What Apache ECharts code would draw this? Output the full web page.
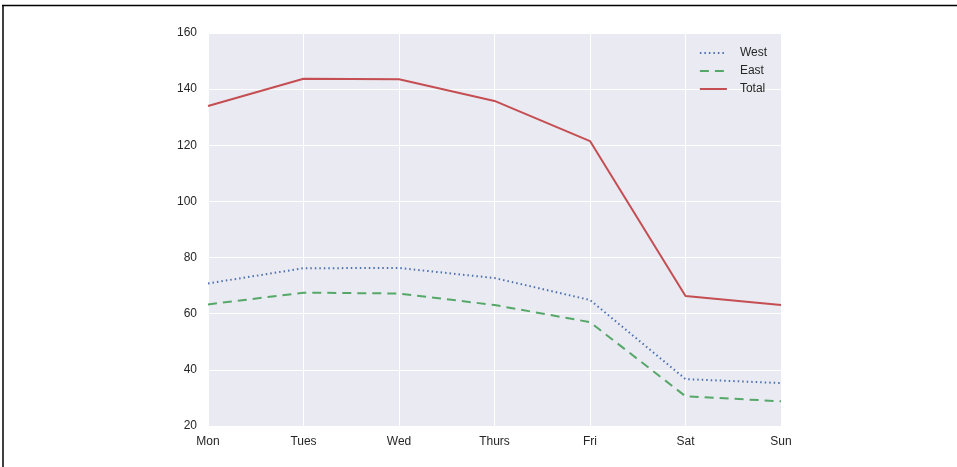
<!DOCTYPE html>
<html>
<head>
<meta charset="utf-8">
<script src="https://cdn.jsdelivr.net/npm/echarts@6/dist/echarts.min.js"></script>
<style>
html,body{margin:0;padding:0;background:#fff;}
#c{width:957px;height:467px;}
</style>
</head>
<body>
<div id="c"></div>
<script>
const categories = ['Mon', 'Tues', 'Wed', 'Thurs', 'Fri', 'Sat', 'Sun'];
const westValues = [70.8, 76.2, 76.3, 72.7, 64.9, 36.7, 35.3];
const eastValues = [63.3, 67.5, 67.2, 63.1, 57.0, 30.6, 28.8];
const totalValues = [134.0, 143.7, 143.5, 135.8, 121.5, 66.3, 63.1];
const yTicks = [20, 40, 60, 80, 100, 120, 140, 160];

const chart = echarts.init(document.getElementById('c'));
const font = 'Liberation Sans, Arial, sans-serif';
chart.setOption({
  animation: false,
  backgroundColor: '#ffffff',
  textStyle: { fontFamily: font },
  grid: { left: 208, right: 176, top: 33, bottom: 41, backgroundColor: '#EAEAF2', show: true, borderWidth: 0 },
  legend: {
    orient: 'vertical',
    right: 185,
    top: 42,
    itemWidth: 27,
    itemHeight: 10,
    itemGap: 6,
    itemStyle: { opacity: 0, borderWidth: 0 },
    textStyle: { color: '#262626', fontSize: 12, fontFamily: font, padding: [0, 0, 0, 8] },
    data: ['West', 'East', 'Total']
  },
  xAxis: {
    type: 'category',
    data: categories,
    boundaryGap: false,
    axisLine: { show: false },
    axisTick: { show: false },
    axisLabel: { color: '#262626', fontSize: 12, margin: 10, fontFamily: font },
    splitLine: { show: true, lineStyle: { color: '#ffffff', width: 1 } }
  },
  yAxis: {
    type: 'value',
    min: yTicks[0],
    max: yTicks[yTicks.length - 1],
    interval: 20,
    axisLine: { show: false },
    axisTick: { show: false },
    axisLabel: { color: '#262626', fontSize: 12, margin: 11, fontFamily: font },
    splitLine: { show: true, lineStyle: { color: '#ffffff', width: 1 } }
  },
  series: [
    { name: 'West', type: 'line', data: westValues, symbol: 'none', color: '#4C72B0',
      lineStyle: { color: '#4C72B0', width: 2, type: [1.5, 3] } },
    { name: 'East', type: 'line', data: eastValues, symbol: 'none', color: '#55A868',
      lineStyle: { color: '#55A868', width: 2, type: [9, 6] } },
    { name: 'Total', type: 'line', data: totalValues, symbol: 'none', color: '#C44E52',
      lineStyle: { color: '#C44E52', width: 2 } }
  ],
  graphic: [
    { type: 'line', shape: { x1: 2, y1: 5.5, x2: 957, y2: 5.5 }, style: { stroke: '#000', lineWidth: 1.5 } },
    { type: 'line', shape: { x1: 3, y1: 5, x2: 3, y2: 467 }, style: { stroke: '#000', lineWidth: 1.5 } }
  ]
});
</script>
</body>
</html>
